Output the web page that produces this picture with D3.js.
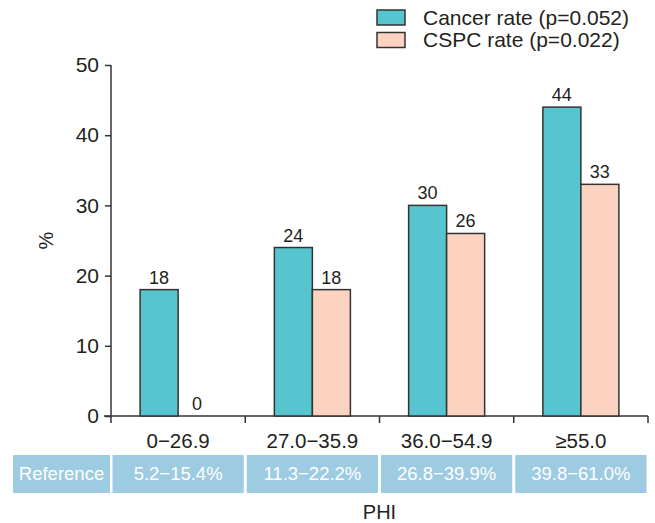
<!DOCTYPE html>
<html>
<head>
<meta charset="utf-8">
<script src="https://cdn.jsdelivr.net/npm/d3@7"></script>
<style>
  body { margin: 0; background: #fff; }
  svg { font-family: "Liberation Sans", Arial, sans-serif; }
</style>
</head>
<body>
<div class="chart"></div>
<script>
const categories = ["0\u221226.9", "27.0\u221235.9", "36.0\u221254.9", "\u226555.0"];
const cancerRate = [18, 24, 30, 44];
const cspcRate = [0, 18, 26, 33];
const referenceRanges = ["5.2\u221215.4%", "11.3\u221222.2%", "26.8\u221239.9%", "39.8\u221261.0%"];
const seriesNames = ["Cancer rate (p=0.052)", "CSPC rate (p=0.022)"];
const yTicks = [0, 10, 20, 30, 40, 50];

const width = 655, height = 523;
const colors = ["#56c5d0", "#fcd3c1"];
const ink = "#231f20";
const stroke = "#333";

const svg = d3.select(".chart").append("svg")
  .attr("width", width)
  .attr("height", height);

const x0 = d3.scaleBand().domain(categories).range([111, 648]);
const x1 = d3.scaleBand().domain([0, 1]).range([0, x0.bandwidth()]).paddingInner(0).paddingOuter(0.766);
const y = d3.scaleLinear().domain([0, 50]).range([416, 65]);

// y axis
const yAxis = svg.append("g")
  .attr("transform", "translate(111,0)")
  .call(d3.axisLeft(y).tickValues(yTicks).tickSize(6).tickPadding(6).tickSizeOuter(0));
yAxis.select(".domain").remove();
yAxis.selectAll("line").attr("stroke", stroke).attr("stroke-width", 1.5);
yAxis.selectAll("text").attr("font-size", 21).attr("fill", ink).attr("font-family", "Liberation Sans, Arial, sans-serif");
svg.append("line")
  .attr("x1", 111).attr("x2", 111).attr("y1", y(50)).attr("y2", 423)
  .attr("stroke", stroke).attr("stroke-width", 1.5);

// x axis line + boundary ticks
svg.append("line")
  .attr("x1", 104).attr("x2", x0.range()[1]).attr("y1", y(0)).attr("y2", y(0))
  .attr("stroke", stroke).attr("stroke-width", 1.5);
const bounds = categories.slice(1).map(c => x0(c)).concat([x0.range()[1]]);
svg.selectAll(".bound")
  .data(bounds)
  .enter()
  .append("line")
  .attr("x1", d => d).attr("x2", d => d)
  .attr("y1", y(0)).attr("y2", y(0) + 7)
  .attr("stroke", stroke).attr("stroke-width", 1.5);

// bars
const rows = categories.map((c, i) => ({ cat: c, values: [cancerRate[i], cspcRate[i]] }));
const groups = svg.selectAll(".group")
  .data(rows)
  .enter()
  .append("g")
  .attr("transform", d => `translate(${x0(d.cat)},0)`);

groups.selectAll("rect")
  .data(d => d.values.map((v, k) => ({ k, v })).filter(e => e.v > 0))
  .enter()
  .append("rect")
  .attr("x", d => x1(d.k))
  .attr("y", d => y(d.v))
  .attr("width", x1.bandwidth())
  .attr("height", d => y(0) - y(d.v))
  .attr("fill", d => colors[d.k])
  .attr("stroke", stroke)
  .attr("stroke-width", 1.5);

groups.selectAll("text")
  .data(d => d.values.map((v, k) => ({ k, v })))
  .enter()
  .append("text")
  .text(d => d.v)
  .attr("x", d => x1(d.k) + x1.bandwidth() / 2)
  .attr("y", d => y(d.v) - 6)
  .attr("text-anchor", "middle")
  .attr("font-size", 18)
  .attr("fill", ink);

// category labels
svg.selectAll(".cat")
  .data(categories)
  .enter()
  .append("text")
  .text(d => d)
  .attr("x", d => x0(d) + x0.bandwidth() / 2)
  .attr("y", 448)
  .attr("text-anchor", "middle")
  .attr("font-size", 20.5)
  .attr("fill", ink);

// reference table
const tableTop = 455, tableBottom = 493;
const tableColor = "#9dcbe2";
svg.append("rect")
  .attr("x", 13).attr("y", tableTop)
  .attr("width", 97).attr("height", tableBottom - tableTop)
  .attr("fill", tableColor);
svg.append("text")
  .text("Reference")
  .attr("x", 61.5).attr("y", (tableTop + tableBottom) / 2)
  .attr("dy", "0.35em")
  .attr("text-anchor", "middle")
  .attr("font-size", 18.5)
  .attr("fill", "#fff");
svg.selectAll(".refcell")
  .data(categories)
  .enter()
  .append("rect")
  .attr("x", d => x0(d) + 1.5)
  .attr("y", tableTop)
  .attr("width", x0.bandwidth() - 3)
  .attr("height", tableBottom - tableTop)
  .attr("fill", tableColor);
svg.selectAll(".reftext")
  .data(categories)
  .enter()
  .append("text")
  .text((d, i) => referenceRanges[i])
  .attr("x", d => x0(d) + x0.bandwidth() / 2)
  .attr("y", (tableTop + tableBottom) / 2)
  .attr("dy", "0.35em")
  .attr("text-anchor", "middle")
  .attr("font-size", 18.5)
  .attr("fill", "#fff");

// axis titles
svg.append("text")
  .text("PHI")
  .attr("x", (x0.range()[0] + x0.range()[1]) / 2)
  .attr("y", 518.5)
  .attr("text-anchor", "middle")
  .attr("font-size", 20)
  .attr("fill", ink);
svg.append("text")
  .text("%")
  .attr("transform", `translate(53,${(y(0) + y(50)) / 2}) rotate(-90)`)
  .attr("text-anchor", "middle")
  .attr("font-size", 20)
  .attr("fill", ink);

// legend
const legend = svg.selectAll(".legend")
  .data(seriesNames)
  .enter()
  .append("g")
  .attr("transform", (d, i) => `translate(377,${10 + i * 22.5})`);
legend.append("rect")
  .attr("width", 28).attr("height", 15)
  .attr("fill", (d, i) => colors[i])
  .attr("stroke", stroke)
  .attr("stroke-width", 1.5);
legend.append("text")
  .text(d => d)
  .attr("x", 46).attr("y", 7.5)
  .attr("dy", "0.35em")
  .attr("font-size", 21)
  .attr("fill", ink);
</script>
</body>
</html>
